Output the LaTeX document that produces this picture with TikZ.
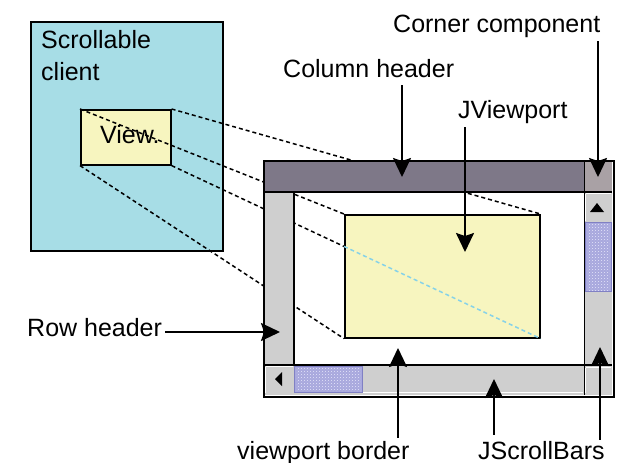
\documentclass[tikz,border=0pt]{standalone}
\usepackage{fontspec}
\setmainfont{Liberation Sans}
\usetikzlibrary{arrows.meta,patterns}
\definecolor{clientcyan}{HTML}{A7DDE6}
\definecolor{viewyellow}{HTML}{F7F5BF}
\definecolor{colhead}{HTML}{7E7888}
\definecolor{cornergray}{HTML}{A9A1A5}
\definecolor{bargray}{HTML}{CFCFCF}
\definecolor{thumbblue}{HTML}{A9A9DE}
\definecolor{thumbedge}{HTML}{8080C4}
\definecolor{thumbdot}{HTML}{E6E6FA}
\definecolor{thumbdark}{HTML}{8080C8}
\definecolor{projblue}{HTML}{86D2E8}
\begin{document}
\begin{tikzpicture}[x=1pt,y=-1pt,
  lbl/.style={inner sep=0pt, anchor=base west, font=\fontsize{25}{30}\selectfont},
  arr/.style={line width=2pt, -{Stealth[length=19pt,width=18pt,inset=3pt]}},
  proj/.style={line width=1.5pt, dash pattern=on 4pt off 3pt},
  box/.style={draw=black, line width=1.6pt, inner sep=0pt, anchor=north west},
  bar/.style={fill=bargray},
  thumb/.style={fill=thumbblue, draw=thumbedge, line width=1pt},
  dots/.style={pattern=crosshatch dots, pattern color=thumbdot},
  darkdots/.style={pattern=dots, pattern color=thumbdark},
  bevel/.style={draw=white, line width=1pt}]
\useasboundingbox (0,0) rectangle (619,463);

% scrollable client with its visible part
\node[box, fill=clientcyan, minimum width=192pt, minimum height=229pt] (client) at (30,21) {};
\node[lbl] (lblScroll) at (41,48) {Scrollable};
\node[lbl] (lblClient) at (41,80) {client};
\node[box, fill=viewyellow, minimum width=90pt, minimum height=55pt] (view) at (80,109) {};
\node[lbl] (lblView) at (100,143) {View.};

% scroll pane background and the viewport's view
\node[box, fill=white, draw=none, minimum width=348pt, minimum height=234pt] (pane) at (264,161) {};
\node[box, fill=viewyellow, minimum width=195pt, minimum height=123pt] (vp) at (344,214) {};

% projection of the view onto the viewport
\draw[proj] (view.north east) -- (vp.north east);
\draw[proj] (view.north west) -- (vp.north west);
\draw[proj] (view.south west) -- (vp.south west);
\coordinate (cross) at (intersection of view.south east--vp.south east and vp.north west--vp.south west);
\draw[proj] (view.south east) -- (cross);
\draw[proj, projblue] (cross) -- (vp.south east);

% column header and corner
\fill[colhead] (264,161) rectangle (584,192);
\fill[cornergray] (584,161) rectangle (612,192);
% row header
\fill[bar] (264,192) rectangle (294,365);
% horizontal scroll bar
\fill[bar] (264,365) rectangle (584,395);
\draw[bevel] (265.5,366.5) -- (292.5,366.5) (265.5,366.5) -- (265.5,392.5);
\draw[bevel] (363,392.5) -- (583,392.5);
\fill (275,379) -- (282,372) -- (282,386) -- cycle;
\draw[thumb] (294.5,366) rectangle (362.5,392.5);
\path[darkdots] (296,368) rectangle (361,391);
\path[dots] (296,368) rectangle (361,391);
% vertical scroll bar
\fill[bar] (584,192) rectangle (612,395);
\draw[bevel] (585.5,193.5) -- (610.5,193.5) (585.5,193.5) -- (585.5,221);
\fill (597,203) -- (604,212) -- (590,212) -- cycle;
\draw[thumb] (585,222.5) rectangle (611,291.5);
\path[darkdots] (587,224) rectangle (610,290);
\path[dots] (587,224) rectangle (610,290);
\draw[bevel] (585.5,367.5) -- (610.5,367.5) (585.5,367.5) -- (585.5,393);

% frame lines
\draw[line width=1.6pt] (264,192) -- (612,192);
\draw[line width=1.6pt] (294,192) -- (294,365);
\draw[line width=1.6pt] (264,365) -- (612,365);
\draw[line width=1pt] (584,161) -- (584,395);
\draw[line width=2.2pt] (pane.north west) rectangle (pane.south east);

% labels
\node[lbl] (lblCorner) at (393,32) {Corner component};
\node[lbl] (lblColumn) at (283,77) {Column header};
\node[lbl] (lblViewport) at (458,118) {JViewport};
\node[lbl] (lblRow) at (27,336) {Row header};
\node[lbl] (lblBorder) at (237,459) {viewport border};
\node[lbl] (lblBars) at (478,459) {JScrollBars};

% arrow tips
\coordinate (tipCorner) at (598,177);
\coordinate (tipColumn) at (402,177);
\coordinate (tipViewport) at (465,252);
\coordinate (tipRow) at (280,332);
\coordinate (tipBorder) at (398,348);
\coordinate (tipHBar) at (494,379);
\coordinate (tipVBar) at (600,347);

% arrows
\draw[arr] ([yshift=-4pt]lblCorner.south -| tipCorner) -- (tipCorner);
\draw[arr] ([yshift=-8pt]lblColumn.south -| tipColumn) -- (tipColumn);
\draw[arr] ([yshift=-4pt]lblViewport.south -| tipViewport) -- (tipViewport);
\draw[arr] ([xshift=3pt]lblRow.east |- tipRow) -- (tipRow);
\draw[arr] ([yshift=3pt]lblBorder.north -| tipBorder) -- (tipBorder);
\draw[arr] ([yshift=6pt]lblBars.north -| tipHBar) -- (tipHBar);
\draw[arr] ([yshift=1pt]lblBars.north -| tipVBar) -- (tipVBar);
\end{tikzpicture}
\end{document}
